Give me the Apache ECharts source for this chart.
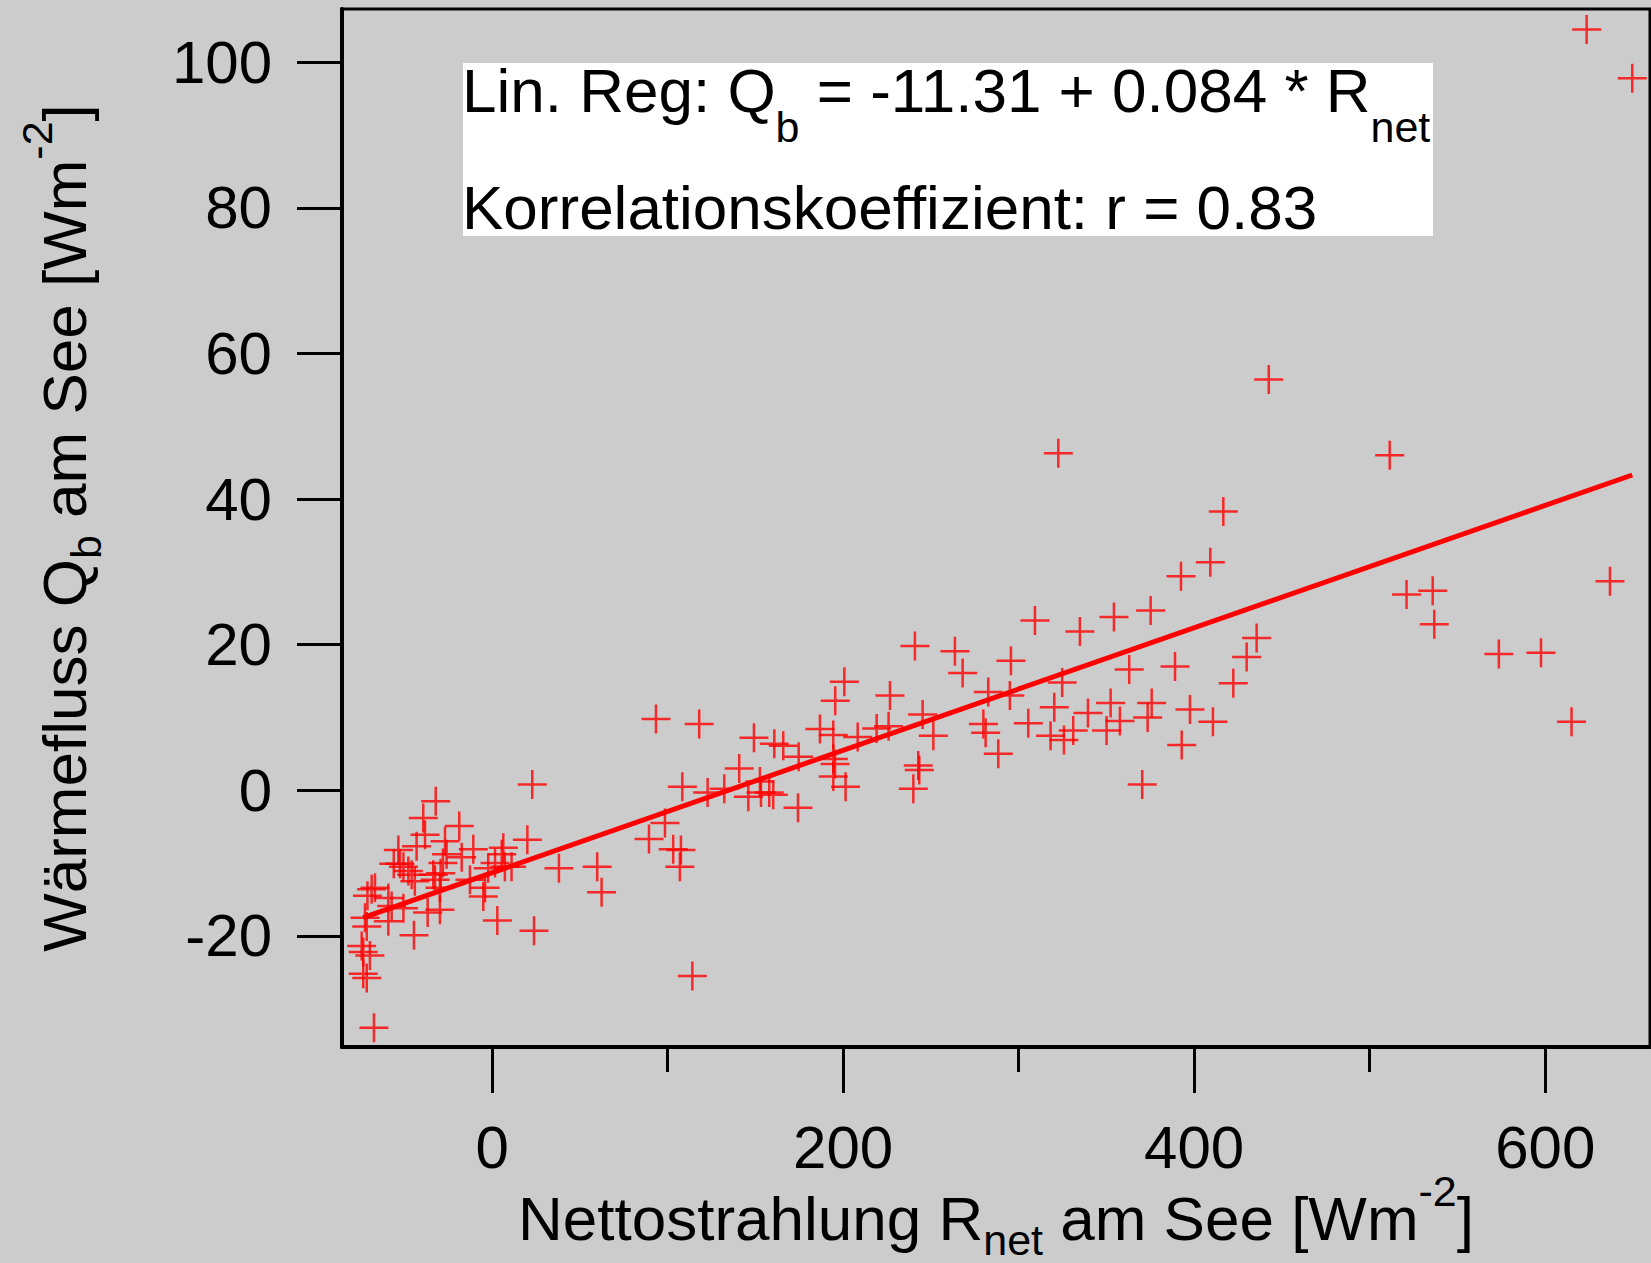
<!DOCTYPE html>
<html>
<head>
<meta charset="utf-8">
<script src="https://cdn.jsdelivr.net/npm/echarts@6/dist/echarts.min.js"></script>
<style>
html,body{margin:0;padding:0;background:#cccccc;}
#chart{width:1651px;height:1263px;}
</style>
</head>
<body>
<div id="chart"></div>
<script>
// Net radiation R_net [W m^-2]
const rnet = [
 -74.3,-73.4,-69.6,-73.4,-71.4,-67.3,-72.4,-71.4,-68.6,-71.0,-66.7,-59.1,-59.1,-57.2,-50.5,-44.5,-36.7,-29.7,
 -56.0,-52.5,-50.5,-47.7,-45.8,-44.0,-53.4,-43.0,-39.2,-38.2,-32.1,-26.8,-25.9,-28.0,-18.7,-17.3,-10.7,
 -33.5,-32.5,-29.3,-29.7,-12.6,-2.2,-4.0,-5.0,6.4,5.5,1.7,7.3,11.1,20.1,22.9,38.1,59.9,62.4,3.0,23.9,
 89.4,98.5,103.2,107.6,107.0,114.1,108.4,122.8,93.4,118.0,132.3,140.8,146.0,149.2,152.6,153.2,157.9,160.2,
 160.8,165.9,174.7,174.3,186.8,194.4,194.4,195.4,194.4,201.4,195.5,200.7,208.3,219.1,225.9,226.7,240.9,
 245.3,251.4,242.8,243.4,240.0,
 263.7,268.1,282.7,295.0,295.6,279.9,281.2,288.4,305.5,309.3,322.6,324.8,320.3,318.2,325.8,331.1,334.9,
 339.5,350.1,352.4,354.3,357.7,363.0,370.4,373.5,375.8,375.2,389.1,392.5,392.9,397.6,409.2,410.7,416.6,
 422.3,429.9,435.6,442.5,
 511.4,521.0,535.9,536.8,573.6,597.6,615.0,623.6,636.9,649.6
];
// Heat flux Q_b [W m^-2]
const qb = [
 -21.4,-22.2,-22.7,-25.2,-25.8,-32.6,-17.5,-18.7,-13.6,-14.5,-13.4,-14.8,-18.0,-15.9,-16.2,-19.9,-16.8,-16.4,
 -10.1,-10.1,-10.5,-11.1,-11.6,-12.5,-8.2,-7.7,-3.8,-6.1,-1.5,-7.0,-8.8,-10.0,-4.9,-9.2,-8.1,
 -11.6,-12.3,-11.4,-13.4,-12.3,-10.7,-13.4,-14.6,-7.9,-8.8,-10.0,-10.5,-10.5,-6.8,0.8,-10.7,-10.5,-14.0,-17.9,-19.3,
 -6.7,-4.5,-8.1,-8.2,-10.5,-25.5,0.5,-0.3,9.8,9.1,0.2,3.0,-0.9,7.2,1.2,-0.3,-0.3,-0.6,
 6.4,6.1,4.6,-2.4,8.4,7.6,4.3,3.6,1.9,0.5,12.3,14.9,7.3,8.5,8.8,13.0,19.8,
 10.4,7.5,3.4,2.8,0.2,
 19.1,16.1,13.5,13.0,17.8,9.1,7.9,5.0,9.2,23.3,46.3,14.8,11.4,7.5,6.9,8.2,21.8,
 10.6,8.2,12.0,23.8,9.5,16.6,0.8,10.0,12.0,24.7,17.0,29.4,6.2,11.1,31.3,9.4,38.3,
 14.7,18.3,20.9,56.4,
 46.0,26.9,27.4,22.8,18.7,18.9,9.4,104.5,28.7,97.8
];
// Regression line end points (Q_b = -11.31 + 0.084 * R_net)
const fitX = [-73.4, 649.6];
const fitY = [-17.5, 43.3];
// Tick values
const xMajorTicks = [0, 200, 400, 600];
const xMinorTicks = [100, 300, 500];
const yTicks = [-20, 0, 20, 40, 60, 80, 100];
// Texts
const annoLine1 = '{m|Lin. Reg: Q}{s|b}{m| = -11.31 + 0.084 * R}{s|net}';
const annoLine2 = '{m|Korrelationskoeffizient: r = 0.83}';
const xTitle = '{m|Nettostrahlung R}{s|net}{m| am See [Wm}{p|-2}{m|]}';
const yTitle = '{m|Wärmefluss Q}{s|b}{m| am See [Wm}{p|-2}{m|]}';

const FF = '"Liberation Sans", Arial, Helvetica, sans-serif';
const titleRich = {
  m: {fontSize: 62, fontFamily: FF, color: '#000', lineHeight: 62, verticalAlign: 'top', padding: [18, 0, 0, 0]},
  s: {fontSize: 43, fontFamily: FF, color: '#000', lineHeight: 34, verticalAlign: 'top', padding: [49, 0, 0, 0]},
  p: {fontSize: 43, fontFamily: FF, color: '#000', lineHeight: 43, verticalAlign: 'top', padding: [0, 0, 0, 0]}
};
const annoRich = {
  m: {fontSize: 62, fontFamily: FF, fill: '#000', lineHeight: 62, verticalAlign: 'top', padding: [0, 0, 0, 0]},
  s: {fontSize: 43, fontFamily: FF, fill: '#000', lineHeight: 43, verticalAlign: 'top', padding: [46, 0, 0, 0]}
};

const points = rnet.map((x, i) => [x, qb[i]]);
const fitLine = fitX.map((x, i) => [x, fitY[i]]);

const chart = echarts.init(document.getElementById('chart'), null, {renderer: 'svg'});
chart.setOption({
  backgroundColor: '#cccccc',
  animation: false,
  grid: {left: 342, right: 1, top: 9, bottom: 216, containLabel: false, outerBoundsMode: 'none',
         show: true, borderColor: '#000', borderWidth: 3, backgroundColor: '#cccccc'},
  xAxis: [{
    type: 'value', min: -85.5, max: 659.7,
    splitLine: {show: false},
    axisLine: {show: true, onZero: false, lineStyle: {color: '#000', width: 4}},
    axisTick: {show: true, customValues: xMajorTicks, length: 46, lineStyle: {color: '#000', width: 3}},
    axisLabel: {show: true, customValues: xMajorTicks, margin: 70, fontSize: 60, fontFamily: FF, color: '#000'},
    name: xTitle, nameLocation: 'middle', nameGap: 122, nameMoveOverlap: false,
    nameTextStyle: {rich: titleRich}
  }, {
    type: 'value', min: -85.5, max: 659.7, position: 'bottom',
    splitLine: {show: false},
    axisLine: {show: false, onZero: false},
    axisTick: {show: true, customValues: xMinorTicks, length: 25, lineStyle: {color: '#000', width: 3}},
    axisLabel: {show: false}
  }],
  yAxis: {
    type: 'value', min: -35.26, max: 107.3,
    splitLine: {show: false},
    axisLine: {show: true, onZero: false, lineStyle: {color: '#000', width: 4}},
    axisTick: {show: true, customValues: yTicks, length: 45, lineStyle: {color: '#000', width: 3}},
    axisLabel: {show: true, customValues: yTicks, margin: 70, fontSize: 60, fontFamily: FF, color: '#000'},
    name: yTitle, nameLocation: 'middle', nameGap: 265, nameRotate: 90, nameMoveOverlap: false,
    nameTextStyle: {rich: titleRich}
  },
  series: [{
    type: 'scatter', data: points, xAxisIndex: 0,
    symbol: 'path://M14,0L14,28M0,14L28,14', symbolSize: 29,
    itemStyle: {color: 'rgba(0,0,0,0)', borderColor: '#ff0000', borderWidth: 2.5}
  }, {
    type: 'line', data: fitLine, xAxisIndex: 0, showSymbol: false, symbol: 'none',
    lineStyle: {color: '#ff0000', width: 5}
  }],
  graphic: [{
    type: 'rect', shape: {x: 463, y: 63, width: 970, height: 173}, style: {fill: '#ffffff'}, z: 10
  }, {
    type: 'text', x: 462, y: 59, z: 11,
    style: {text: annoLine1, rich: annoRich, verticalAlign: 'top', align: 'left'}
  }, {
    type: 'text', x: 462, y: 176, z: 11,
    style: {text: annoLine2, rich: annoRich, verticalAlign: 'top', align: 'left'}
  }]
});
</script>
</body>
</html>
